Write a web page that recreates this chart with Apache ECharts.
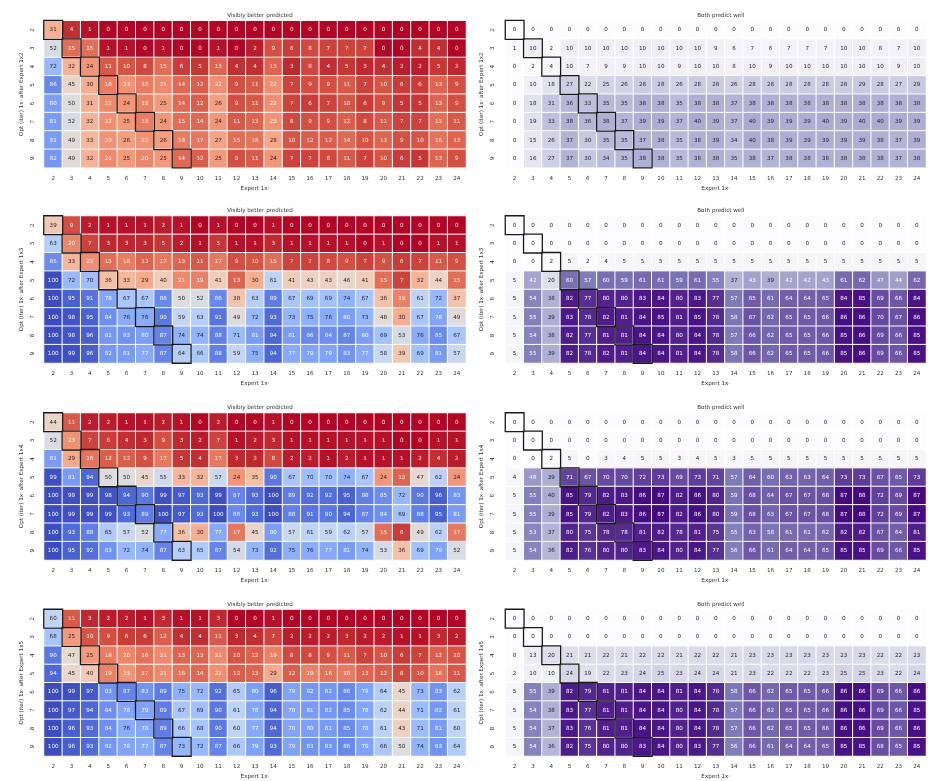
<!DOCTYPE html>
<html>
<head>
<meta charset="utf-8">
<script src="https://cdn.jsdelivr.net/npm/echarts@6/dist/echarts.min.js"></script>
<style>
html,body{margin:0;padding:0;background:#fff;}
#chart{width:928px;height:781px;}
</style>
</head>
<body>
<div id="chart"></div>
<script>
// ---------- categories ----------
const expertCats = ['2','3','4','5','6','7','8','9','10','11','12','13','14','15','16','17','18','19','20','21','22','23','24'];
const optCats = ['2','3','4','5','6','7','8','9'];
const panelSuffix = ['1x2','1x3','1x4','1x5'];
const leftTitle = 'Visibly better predicted';
const rightTitle = 'Both predict well';
const xName = 'Expert 1x\u00b7';
const yNamePrefix = 'Opt (iter) 1x\u00b7 after Expert ';

// ---------- data: rows = Opt 2..9, cols = Expert 2..24 ----------
const better_1x2 = [
[31,4,1,0,0,0,0,0,0,0,0,0,0,0,0,0,0,0,0,0,0,0,0],
[52,15,15,1,1,0,1,0,0,1,0,2,9,6,8,7,7,7,0,0,4,4,0],
[72,32,24,11,10,8,15,6,5,13,4,4,13,3,8,4,5,3,4,2,2,5,3],
[86,45,30,18,23,18,21,14,12,22,9,11,22,7,9,9,11,7,10,6,6,13,9],
[80,50,31,21,24,19,25,14,12,26,9,11,22,7,6,7,10,6,9,5,5,13,9],
[81,52,32,22,25,18,24,15,14,24,11,13,23,8,9,9,12,8,11,7,7,15,11],
[81,49,33,23,26,23,26,18,17,27,15,16,28,10,12,12,14,10,13,9,10,16,13],
[82,49,32,21,25,20,25,14,12,25,9,11,24,7,7,8,11,7,10,6,5,13,9]];
const both_1x2 = [
[0,0,0,0,0,0,0,0,0,0,0,0,0,0,0,0,0,0,0,0,0,0,0],
[1,10,2,10,10,10,10,10,10,10,10,9,6,7,6,7,7,7,10,10,8,7,10],
[0,2,4,10,7,9,9,10,10,9,10,10,8,10,9,10,10,10,10,10,10,9,10],
[0,10,18,27,22,25,26,28,28,26,28,28,26,28,28,28,28,28,28,29,28,27,29],
[0,18,31,36,33,35,35,38,38,35,38,38,37,38,38,38,38,38,38,38,38,38,38],
[0,19,33,38,36,38,37,39,39,37,40,39,37,40,39,39,39,40,39,40,40,39,39],
[0,15,26,37,30,35,35,37,38,35,38,39,34,40,38,39,39,39,39,39,38,37,39],
[0,16,27,37,30,34,35,38,38,35,38,38,35,38,37,38,38,38,38,38,38,37,38]];
const better_1x3 = [
[39,9,2,1,1,1,2,1,0,1,0,0,1,0,0,0,0,0,0,0,0,0,0],
[63,20,7,3,3,3,5,2,1,5,1,1,3,1,1,1,1,0,1,0,0,1,1],
[85,33,22,15,18,13,17,13,11,17,9,10,15,7,7,8,9,7,9,6,7,11,9],
[100,72,70,36,33,29,40,21,19,41,13,30,61,41,43,43,46,41,15,7,32,44,15],
[100,95,91,78,67,67,86,50,52,86,38,63,89,67,69,69,74,67,36,19,61,72,37],
[100,98,95,84,76,76,90,59,63,91,49,72,93,73,75,76,80,73,48,30,67,78,49],
[100,98,96,82,83,80,87,74,74,88,71,81,94,81,86,84,87,80,69,53,76,85,67],
[100,99,96,82,81,77,87,64,66,88,59,75,94,77,79,79,83,77,58,39,69,81,57]];
const both_1x3 = [
[0,0,0,0,0,0,0,0,0,0,0,0,0,0,0,0,0,0,0,0,0,0,0],
[0,0,0,0,0,0,0,0,0,0,0,0,0,0,0,0,0,0,0,0,0,0,0],
[0,0,2,5,2,4,5,5,5,5,5,5,5,5,5,5,5,5,5,5,5,5,5],
[5,42,20,60,57,60,59,61,61,59,61,55,37,43,39,42,42,43,61,62,47,44,62],
[5,54,38,82,77,80,80,83,84,80,83,77,57,65,61,64,64,65,84,85,69,66,84],
[5,55,39,83,78,82,81,84,85,81,85,78,58,67,62,65,65,66,86,86,70,67,86],
[5,54,38,82,77,81,81,84,84,80,84,78,57,66,62,65,65,66,85,86,69,66,85],
[5,55,39,82,78,82,81,84,84,81,84,78,58,66,62,65,65,66,85,86,69,66,85]];
const better_1x4 = [
[44,11,2,2,1,1,2,1,0,2,0,0,1,0,0,0,0,0,0,0,0,0,0],
[52,23,7,6,4,3,9,3,2,7,1,2,3,1,1,1,1,1,1,0,0,1,1],
[81,29,16,12,12,9,17,5,4,17,3,3,8,2,2,1,2,1,1,1,2,4,2],
[99,81,94,50,50,45,55,33,32,57,24,35,90,67,70,70,74,67,24,13,47,62,24],
[100,99,99,98,94,90,99,97,93,99,87,93,100,89,92,92,95,88,85,72,90,96,83],
[100,99,99,99,93,89,100,97,93,100,86,93,100,88,91,90,94,87,84,69,88,95,81],
[100,93,88,65,57,52,77,36,30,77,17,45,80,57,61,59,62,57,15,6,49,62,17],
[100,95,92,83,72,74,87,63,65,87,54,73,92,75,76,77,81,74,53,36,69,79,52]];
const both_1x4 = [
[0,0,0,0,0,0,0,0,0,0,0,0,0,0,0,0,0,0,0,0,0,0,0],
[0,0,0,0,0,0,0,0,0,0,0,0,0,0,0,0,0,0,0,0,0,0,0],
[0,0,2,5,0,3,4,5,5,3,4,5,3,5,5,5,5,5,5,5,5,5,5],
[4,46,39,71,67,70,70,72,73,69,73,71,57,64,60,63,63,64,73,73,67,65,73],
[5,55,40,85,79,82,83,86,87,82,86,80,59,68,64,67,67,68,87,88,72,69,87],
[5,55,39,85,79,82,83,86,87,82,86,80,59,68,63,67,67,68,87,88,72,69,87],
[5,53,37,80,75,78,78,81,82,78,81,75,55,63,58,61,61,62,82,82,67,64,81],
[5,54,36,82,76,80,80,83,84,80,84,77,56,66,61,64,64,65,85,85,69,66,85]];
const better_1x5 = [
[60,11,3,2,2,1,3,1,1,3,0,0,1,0,0,0,0,0,0,0,0,0,0],
[68,25,10,9,6,6,12,4,4,11,3,4,7,2,2,2,3,2,2,1,1,3,2],
[90,47,25,18,20,16,21,13,13,21,10,12,19,8,8,9,11,7,10,6,7,12,10],
[94,45,40,19,23,17,21,16,14,22,12,13,29,12,19,16,18,13,12,8,10,16,11],
[100,99,97,83,87,83,89,75,72,92,65,80,96,79,82,82,86,79,64,45,73,83,62],
[100,97,94,84,78,79,89,67,69,90,61,78,94,78,81,82,85,78,62,44,71,82,61],
[100,96,93,84,76,78,89,66,68,90,60,77,94,78,80,81,85,78,61,43,71,81,60],
[100,96,93,82,78,77,87,73,72,87,66,79,93,79,83,83,86,79,66,50,74,83,64]];
const both_1x5 = [
[0,0,0,0,0,0,0,0,0,0,0,0,0,0,0,0,0,0,0,0,0,0,0],
[0,0,0,0,0,0,0,0,0,0,0,0,0,0,0,0,0,0,0,0,0,0,0],
[0,13,20,21,21,22,21,22,22,21,22,22,21,23,23,23,23,23,23,23,22,22,23],
[2,10,10,24,19,22,23,24,25,23,24,24,21,23,22,22,22,23,25,25,23,22,24],
[5,55,39,82,79,81,81,84,84,81,84,78,58,66,62,65,65,66,86,86,69,66,86],
[5,54,38,83,77,81,81,84,84,80,84,78,57,66,62,65,65,66,86,86,69,66,85],
[5,54,37,83,76,81,81,84,84,80,84,78,57,66,62,65,65,66,86,86,69,66,86],
[5,54,36,82,75,80,80,83,84,80,83,77,56,66,61,64,64,65,85,85,68,65,85]];
// diagonal outlined cells: [expert, opt]
const diagExpert = ['2','3','4','5','6','7','8','9'];
const diagOpt = ['2','3','4','5','6','7','8','9'];

const betterPanels = [better_1x2, better_1x3, better_1x4, better_1x5];
const bothPanels = [both_1x2, both_1x3, both_1x4, both_1x5];

// ---------- colour maps ----------
const coolwarm = [[59,76,192],[68,90,204],[77,104,215],[87,117,225],[98,130,234],[108,142,241],[119,154,247],[130,165,251],[141,176,254],[152,185,255],[163,194,255],[174,201,253],[184,208,249],[194,213,244],[204,217,238],[213,219,230],[221,221,221],[229,216,209],[236,211,197],[241,204,184],[245,196,172],[247,187,160],[247,177,148],[247,166,135],[244,154,123],[241,141,111],[236,127,99],[229,112,88],[222,96,77],[213,80,66],[203,62,56],[192,40,47],[180,4,38]];
const coolwarmR = coolwarm.slice().reverse();
const purples = [[252,251,253],[239,237,245],[218,218,235],[188,189,220],[158,154,200],[128,125,186],[106,81,163],[84,39,143],[63,0,125]];
const betterRange = [0, 100];
const bothRange = [0, 90];

function interp(stops, t){
  t = Math.max(0, Math.min(1, t));
  const n = stops.length - 1, p = t * n, i = Math.floor(p), f = p - i;
  if (i >= n) return stops[n];
  return [0,1,2].map(k => stops[i][k] + (stops[i+1][k] - stops[i][k]) * f);
}
function lum(c){
  const l = c.map(v => { v /= 255; return v <= 0.03928 ? v / 12.92 : Math.pow((v + 0.055) / 1.055, 2.4); });
  return 0.2126 * l[0] + 0.7152 * l[1] + 0.0722 * l[2];
}
function textColor(stops, range, v){
  const c = interp(stops, (v - range[0]) / (range[1] - range[0]));
  return lum(c) > 0.408 ? '#262626' : '#ffffff';
}
const rgb = c => 'rgb(' + c.join(',') + ')';

// ---------- layout ----------
const gridTops = [20.7, 216, 413, 609.5];
const gridH = 147;
const leftX = 44, leftW = 422;
const rightX = 505.5, rightW = 420.5;
const FS = 5.6;
const TXT = '#333333';
const FONT = 'DejaVu Sans';

const grids = [], xAxes = [], yAxes = [], series = [], titles = [];
const leftIdx = [], rightIdx = [];

function build(gi, left, x, w, top, matrix, stops, range, suffix){
  grids.push({left: x, top: top, width: w, height: gridH, containLabel: false});
  xAxes.push({
    type: 'category', gridIndex: gi, data: expertCats, position: 'bottom',
    axisLine: {show: false}, axisTick: {show: false}, splitLine: {show: false},
    axisLabel: {fontSize: FS, color: TXT, fontFamily: FONT, margin: 8, interval: 0},
    name: xName, nameLocation: 'middle', nameGap: 18,
    nameTextStyle: {fontSize: FS, color: TXT, fontFamily: FONT}
  });
  yAxes.push({
    type: 'category', gridIndex: gi, data: optCats, inverse: true,
    axisLine: {show: false}, axisTick: {show: false}, splitLine: {show: false},
    axisLabel: {fontSize: FS, color: TXT, fontFamily: FONT, rotate: 90, margin: left ? 8 : 10, interval: 0},
    name: yNamePrefix + suffix, nameLocation: 'middle', nameGap: left ? 19 : 21, nameRotate: 90,
    nameTextStyle: {fontSize: FS, color: TXT, fontFamily: FONT}
  });
  titles.push({
    text: left ? leftTitle : rightTitle,
    left: x + w / 2, top: top - 13, textAlign: 'center',
    textStyle: {fontSize: FS, fontWeight: 'normal', color: TXT, fontFamily: FONT}
  });
  const data = [];
  matrix.forEach((row, r) => row.forEach((v, c) => {
    data.push({value: [expertCats[c], optCats[r], v], label: {color: textColor(stops, range, v)}});
  }));
  (left ? leftIdx : rightIdx).push(series.length);
  series.push({
    type: 'heatmap', xAxisIndex: gi, yAxisIndex: gi, data: data, silent: true,
    itemStyle: {borderColor: '#ffffff', borderWidth: 1},
    label: {show: true, fontSize: FS, fontFamily: FONT, formatter: p => String(p.value[2])},
    emphasis: {disabled: true}
  });
  series.push({
    type: 'heatmap', xAxisIndex: gi, yAxisIndex: gi, silent: true, z: 5,
    data: diagExpert.map((e, i) => [e, diagOpt[i], 0]),
    itemStyle: {color: 'rgba(0,0,0,0)', borderColor: '#1a1a1a', borderWidth: 1.3},
    label: {show: false}, emphasis: {disabled: true}
  });
}

for (let p = 0; p < 4; p++){
  build(2 * p, true, leftX, leftW, gridTops[p], betterPanels[p], coolwarmR, betterRange, panelSuffix[p]);
  build(2 * p + 1, false, rightX, rightW, gridTops[p], bothPanels[p], purples, bothRange, panelSuffix[p]);
}

const chart = echarts.init(document.getElementById('chart'), null, {renderer: 'canvas'});
chart.setOption({
  backgroundColor: '#ffffff',
  animation: false,
  title: titles,
  grid: grids,
  xAxis: xAxes,
  yAxis: yAxes,
  visualMap: [
    {type: 'continuous', show: false, min: betterRange[0], max: betterRange[1], seriesIndex: leftIdx, dimension: 2,
     inRange: {color: coolwarmR.map(rgb)}},
    {type: 'continuous', show: false, min: bothRange[0], max: bothRange[1], seriesIndex: rightIdx, dimension: 2,
     inRange: {color: purples.map(rgb)}}
  ],
  series: series
});
</script>
</body>
</html>
